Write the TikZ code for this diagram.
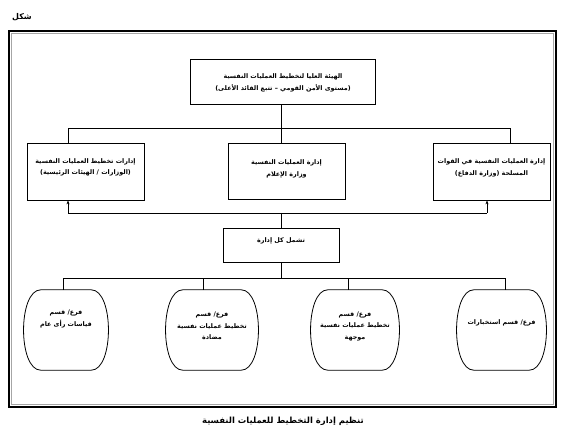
\documentclass[tikz,border=0pt]{standalone}
\usepackage{fontspec}
\newfontfamily\arabicfont[Script=Arabic,BoldFont={DejaVu Sans Bold}]{DejaVu Sans}
\TeXXeTstate=1
\usetikzlibrary{arrows.meta}
\newcommand{\ar}[1]{\beginR #1\endR}
\tikzset{
  txt/.style={font=\arabicfont\bfseries\fontsize{6.4}{11.5}\selectfont, align=center, inner sep=0},
  boxn/.style={draw, line width=0.8bp, minimum width=117bp, minimum height=57bp, inner sep=0},
  conn/.style={line width=0.8bp},
  arr/.style={line width=0.8bp, -{Stealth[length=4bp,width=3bp]}},
}
\newcommand{\barrelpath}[1]{%
  \draw[line width=0.8bp] ([xshift=16bp]#1.north west) -- ([xshift=-16bp]#1.north east)
    .. controls ([xshift=7bp]#1.north east) and ([xshift=7bp]#1.south east) .. ([xshift=-16bp]#1.south east)
    -- ([xshift=16bp]#1.south west)
    .. controls ([xshift=-7bp]#1.south west) and ([xshift=-7bp]#1.north west) .. cycle;}
\begin{document}
\begin{tikzpicture}[x=1bp,y=-1bp]
\useasboundingbox (0,0) rectangle (567,439);
% frame
\draw[line width=2.6bp] (9,31) rectangle (556,407);
\draw[line width=1.2bp, gray!70] (11.5,33.5) rectangle (553.5,404.5);
\node[txt, font=\arabicfont\bfseries\fontsize{8}{10}\selectfont] (fig) at (22,17) {\ar{شكل}};
\node[txt, font=\arabicfont\bfseries\fontsize{8.5}{10}\selectfont] (cap) at (283,421) {\ar{تنظيم إدارة التخطيط للعمليات النفسية}};
% top box
\node[boxn, minimum width=185bp, minimum height=45bp] (top) at (283,81.5) {};
\node[txt] (topt) at (283,83) {\ar{الهيئة العليا لتخطيط العمليات النفسية}\\\ar{(مستوى الأمن القومي – تتبع القائد الأعلى)}};
% level 2
\node[boxn] (left) at (85.5,171.5) {};
\node[txt] (leftt) at (85.5,167.5) {\ar{إدارات تخطيط العمليات النفسية}\\\ar{(الوزارات / الهيئات الرئيسية)}};
\node[boxn, minimum height=56bp] (mid) at (286.5,171) {};
\node[txt] (midt) at (286.5,169) {\ar{إدارة العمليات النفسية}\\\ar{وزارة الإعلام}};
\node[boxn] (right) at (491.5,171.5) {};
\node[txt] (rightt) at (491.5,168) {\ar{إدارة العمليات النفسية في القوات}\\\ar{المسلحة (وزارة الدفاع)}};
% includes box
\node[boxn, minimum width=116bp, minimum height=34bp] (incl) at (281,245) {};
\node[txt] (inclt) at (281,241) {\ar{تشمل كل إدارة}};
% bottom barrels
\node[minimum width=82bp, minimum height=80bp, inner sep=0] (b1) at (66,330) {};
\node[minimum width=90bp, minimum height=80bp, inner sep=0] (b2) at (212,330) {};
\node[minimum width=86bp, minimum height=80bp, inner sep=0] (b3) at (355,330) {};
\node[minimum width=87bp, minimum height=80bp, inner sep=0] (b4) at (501.5,330) {};
\barrelpath{b1}\barrelpath{b2}\barrelpath{b3}\barrelpath{b4}
\node[txt] (b1t) at (66,319) {\ar{فرع/ قسم}\\\ar{قياسات رأى عام}};
\node[txt] (b2t) at (212,326) {\ar{فرع/ قسم}\\\ar{تخطيط عمليات نفسية}\\\ar{مضادة}};
\node[txt] (b3t) at (355,326) {\ar{فرع/ قسم}\\\ar{تخطيط عمليات نفسية}\\\ar{موجهة}};
\node[txt] (b4t) at (501.5,323) {\ar{فرع/ قسم استخبارات}};
% connectors top level
\coordinate (busL) at (68,128);
\coordinate (busR) at (510,128);
\coordinate (busM) at (281,128);
\draw[conn] (top.south -| busM) -- (busM);
\draw[conn] (left.north -| busL) -- (busL) -- (busR) -- (right.north -| busR);
\draw[conn] (busM) -- (mid.north -| busM);
% middle bus with arrows up
\coordinate (c1) at (68,213);
\coordinate (c2) at (487,213);
\coordinate (cM) at (281,213);
\draw[conn] (c1) -- (c2);
\draw[arr] (c1) -- (left.south -| c1);
\draw[arr] (c2) -- (right.south -| c2);
\draw[conn] (cM) -- (incl.north);
% lower bus
\coordinate (d1) at (63,278);
\coordinate (d2) at (203,278);
\coordinate (d3) at (348,278);
\coordinate (d4) at (505,278);
\draw[conn] (incl.south) -- (incl.south |- d1);
\draw[conn] (b1.north -| d1) -- (d1) -- (d4) -- (b4.north -| d4);
\draw[conn] (d2) -- (b2.north -| d2);
\draw[conn] (d3) -- (b3.north -| d3);
\end{tikzpicture}
\end{document}
